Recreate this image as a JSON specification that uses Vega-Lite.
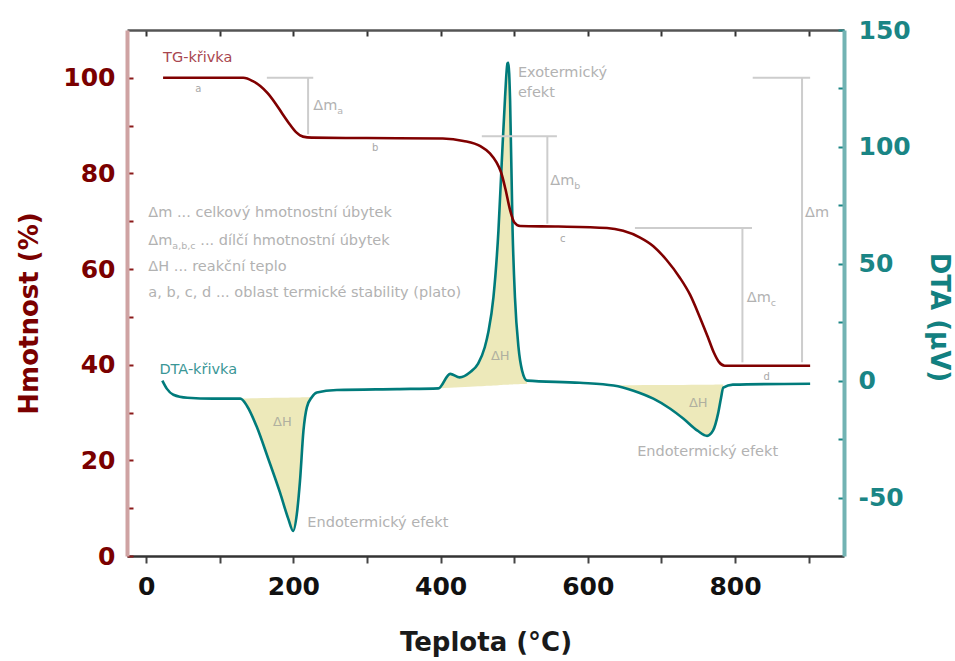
{
  "$schema": "https://vega.github.io/schema/vega-lite/v6.json",
  "width": 717,
  "height": 526,
  "autosize": {"type": "none"},
  "padding": {"left": 127, "top": 30, "right": 111, "bottom": 105},
  "background": "white",
  "config": {"view": {"stroke": null}, "font": "DejaVu Sans"},
  "datasets": {
    "tg": [
      {"t": 23, "m": 100}, {"t": 132, "m": 100}, {"t": 145, "m": 99.3}, {"t": 155, "m": 98.3},
      {"t": 165, "m": 96.8}, {"t": 175, "m": 94.8}, {"t": 185, "m": 92.5}, {"t": 195, "m": 90.3},
      {"t": 204, "m": 88.6}, {"t": 213, "m": 87.7}, {"t": 225, "m": 87.5}, {"t": 300, "m": 87.4},
      {"t": 403, "m": 87.3}, {"t": 431, "m": 86.8}, {"t": 454, "m": 85.7}, {"t": 467, "m": 84.2},
      {"t": 476, "m": 82.3}, {"t": 482, "m": 80.3}, {"t": 488, "m": 76.8}, {"t": 494, "m": 72.6},
      {"t": 500, "m": 69.8}, {"t": 508, "m": 69}, {"t": 560, "m": 68.9}, {"t": 626, "m": 68.6},
      {"t": 648, "m": 68}, {"t": 671, "m": 66.6}, {"t": 689, "m": 64.8}, {"t": 707, "m": 61.9},
      {"t": 725, "m": 58.2}, {"t": 739, "m": 54.6}, {"t": 752, "m": 50}, {"t": 763, "m": 45.8},
      {"t": 771, "m": 42.6}, {"t": 778, "m": 40.6}, {"t": 786, "m": 39.8}, {"t": 902, "m": 39.8}
    ],
    "dta": [
      {"t": 22, "v": 0}, {"t": 28, "v": -3.4}, {"t": 37, "v": -6}, {"t": 56, "v": -7.3}, {"t": 91, "v": -7.7},
      {"t": 128, "v": -7.7, "region": "r1", "base": -7.7},
      {"t": 137, "v": -10.8, "region": "r1", "base": -7.6},
      {"t": 150, "v": -19.5, "region": "r1", "base": -7.5},
      {"t": 166, "v": -33.5, "region": "r1", "base": -7.4},
      {"t": 182, "v": -48, "region": "r1", "base": -7.3},
      {"t": 193, "v": -59, "region": "r1", "base": -7.3},
      {"t": 199.7, "v": -64.3, "region": "r1", "base": -7.2},
      {"t": 204.7, "v": -57.1, "region": "r1", "base": -7.2},
      {"t": 209, "v": -42.9, "region": "r1", "base": -7.2},
      {"t": 213.7, "v": -21.4, "region": "r1", "base": -7.1},
      {"t": 218.3, "v": -11.4, "region": "r1", "base": -7.1},
      {"t": 225, "v": -7.1, "region": "r1", "base": -7.1},
      {"t": 232, "v": -5.1}, {"t": 259, "v": -4}, {"t": 341, "v": -3.6},
      {"t": 397, "v": -3.3, "region": "r2", "base": -3.3},
      {"t": 413, "v": 2.9, "region": "r2", "base": -3.03},
      {"t": 426, "v": 1.4, "region": "r2", "base": -2.82},
      {"t": 440, "v": 3.6, "region": "r2", "base": -2.58},
      {"t": 451, "v": 7.3, "region": "r2", "base": -2.4},
      {"t": 460, "v": 14.3, "region": "r2", "base": -2.25},
      {"t": 465, "v": 21, "region": "r2", "base": -2.17},
      {"t": 471.8, "v": 35.7, "region": "r2", "base": -2.05},
      {"t": 478.6, "v": 64.3, "region": "r2", "base": -1.94},
      {"t": 483, "v": 92.9, "region": "r2", "base": -1.87},
      {"t": 487.6, "v": 121.4, "region": "r2", "base": -1.79},
      {"t": 490.8, "v": 135.7, "region": "r2", "base": -1.74},
      {"t": 492, "v": 136, "region": "r2", "base": -1.72},
      {"t": 494.4, "v": 120, "region": "r2", "base": -1.68},
      {"t": 497.8, "v": 64, "region": "r2", "base": -1.62},
      {"t": 501, "v": 35.7, "region": "r2", "base": -1.57},
      {"t": 505.8, "v": 14.3, "region": "r2", "base": -1.49},
      {"t": 510.7, "v": 4.3, "region": "r2", "base": -1.41},
      {"t": 517.5, "v": 0, "region": "r2", "base": -1.3},
      {"t": 589, "v": -0.9},
      {"t": 635, "v": -2.1, "region": "r3", "base": -2.1},
      {"t": 662, "v": -4.3, "region": "r3", "base": -2.0},
      {"t": 689, "v": -7.7, "region": "r3", "base": -1.9},
      {"t": 712, "v": -12, "region": "r3", "base": -1.8},
      {"t": 730, "v": -16.3, "region": "r3", "base": -1.8},
      {"t": 749, "v": -21.4, "region": "r3", "base": -1.7},
      {"t": 762, "v": -23.6, "region": "r3", "base": -1.7},
      {"t": 770, "v": -21.4, "region": "r3", "base": -1.7},
      {"t": 777, "v": -14, "region": "r3", "base": -1.6},
      {"t": 781, "v": -7.3, "region": "r3", "base": -1.6},
      {"t": 784, "v": -3, "region": "r3", "base": -1.6},
      {"t": 797, "v": -1.7}, {"t": 902, "v": -1.3}
    ],
    "dims": [
      {"t1": 164, "t2": 227, "m1": 100, "m2": 100},
      {"t1": 220, "t2": 220, "m1": 100, "m2": 88.2},
      {"t1": 456, "t2": 558, "m1": 87.8, "m2": 87.8},
      {"t1": 545, "t2": 545, "m1": 87.8, "m2": 69.5},
      {"t1": 664, "t2": 823, "m1": 68.6, "m2": 68.6},
      {"t1": 810, "t2": 810, "m1": 68.6, "m2": 40.5},
      {"t1": 824, "t2": 902, "m1": 100, "m2": 100},
      {"t1": 891, "t2": 891, "m1": 100, "m2": 40.5}
    ],
    "notes": [
      {"kind": "tg", "t": 23, "m": 104.1, "text": "TG-křivka"},
      {"kind": "dta", "t": 18, "m": 38.8, "text": "DTA-křivka"},
      {"kind": "legend", "t": 3, "m": 71.8, "text": "Δm ... celkový hmotnostní úbytek"},
      {"kind": "legend", "t": 3, "m": 60.5, "text": "ΔH ... reakční teplo"},
      {"kind": "legend", "t": 3, "m": 54.9, "text": "a, b, c, d ... oblast termické stability (plato)"},
      {"kind": "note", "t": 505, "m": 101, "text": "Exotermický"},
      {"kind": "note", "t": 505, "m": 96.8, "text": "efekt"},
      {"kind": "note", "t": 219, "m": 6.9, "text": "Endotermický efekt"},
      {"kind": "note", "t": 667, "m": 21.7, "text": "Endotermický efekt"},
      {"kind": "dh", "t": 185, "m": 28, "text": "ΔH"},
      {"kind": "dh", "t": 481, "m": 41.9, "text": "ΔH"},
      {"kind": "dh", "t": 750, "m": 32.1, "text": "ΔH"},
      {"kind": "plateau", "t": 71, "m": 97.6, "text": "a"},
      {"kind": "plateau", "t": 311, "m": 85.3, "text": "b"},
      {"kind": "plateau", "t": 566, "m": 66.3, "text": "c"},
      {"kind": "plateau", "t": 843, "m": 37.5, "text": "d"}
    ],
    "dm": [
      {"t": 3, "m": 65.9, "text": "Δm", "sub": "a,b,c", "rest": "... dílčí hmotnostní úbytek"},
      {"t": 227, "m": 94.1, "text": "Δm", "sub": "a"},
      {"t": 549, "m": 78.4, "text": "Δm", "sub": "b"},
      {"t": 816, "m": 54, "text": "Δm", "sub": "c"},
      {"t": 895, "m": 71.8, "text": "Δm"}
    ]
  },
  "layer": [
    {
      "data": {"name": "dta"},
      "transform": [{"filter": "datum.region != null"}],
      "mark": {"type": "area", "interpolate": "monotone", "color": "#ece8b6", "opacity": 0.95},
      "encoding": {
        "x": {"field": "t", "type": "quantitative", "scale": {"domain": [-26, 948], "nice": false, "zero": false},
          "axis": {"orient": "top", "values": [0, 100, 200, 300, 400, 500, 600, 700, 800, 900], "labels": false, "title": null,
            "domainColor": "#555555", "domainWidth": 2.5, "tickColor": "#333333", "tickWidth": 2,
            "tickSize": -6, "grid": false}},
        "y": {"field": "v", "type": "quantitative", "scale": {"domain": [-75, 150], "nice": false, "zero": false},
          "axis": {"orient": "right", "values": [-50, -25, 0, 25, 50, 75, 100, 125, 150],
            "labelExpr": "datum.value % 50 === 0 ? '' + datum.value : ''",
            "title": "DTA (μV)", "titleColor": "#128080", "titleFontSize": 26, "titleFontWeight": "bold", "titleFont": "DejaVu Sans",
            "titleAngle": 90, "titleX": 94, "titleY": 287, "titleBaseline": "middle", "titleAlign": "center",
            "domainColor": "#72b3b3", "domainWidth": 4, "tickColor": "#1a8585", "tickWidth": 2,
            "tickSize": -6,
            "labelColor": "#1a8585", "labelFont": "DejaVu Sans", "labelFontWeight": "bold", "labelFontSize": 25, "labelPadding": 20, "grid": false}},
        "y2": {"field": "base"},
        "detail": {"field": "region"}
      }
    },
    {
      "data": {"name": "dta"},
      "mark": {"type": "line", "interpolate": "monotone", "color": "#007b7b", "strokeWidth": 2.6},
      "encoding": {
        "x": {"field": "t", "type": "quantitative", "scale": {"domain": [-26, 948], "nice": false, "zero": false}, "axis": null},
        "y": {"field": "v", "type": "quantitative", "scale": {"domain": [-75, 150], "nice": false, "zero": false}, "axis": null}
      }
    },
    {
      "data": {"name": "dims"},
      "mark": {"type": "rule", "color": "#cdcdcd", "strokeWidth": 2},
      "encoding": {
        "x": {"field": "t1", "type": "quantitative", "scale": {"domain": [-26, 948], "nice": false, "zero": false}, "axis": null},
        "x2": {"field": "t2"},
        "y": {"field": "m1", "type": "quantitative", "scale": {"domain": [0, 110], "nice": false, "zero": false}, "axis": null},
        "y2": {"field": "m2"}
      }
    },
    {
      "data": {"name": "tg"},
      "mark": {"type": "line", "interpolate": "monotone", "color": "#800000", "strokeWidth": 2.6},
      "encoding": {
        "x": {"field": "t", "type": "quantitative", "scale": {"domain": [-26, 948], "nice": false, "zero": false},
          "axis": {"orient": "bottom", "values": [0, 100, 200, 300, 400, 500, 600, 700, 800, 900],
            "labelExpr": "datum.value % 200 === 0 ? datum.label : ''",
            "title": "Teplota (°C)", "titleColor": "#1a1a1a", "titleFontSize": 26, "titleFontWeight": "bold", "titleFont": "DejaVu Sans",
            "titleY": 94, "titleBaseline": "alphabetic",
            "domainColor": "#333333", "domainWidth": 2.5, "tickColor": "#444444", "tickWidth": 2,
            "tickSize": 7,
            "labelColor": "#111111", "labelFont": "DejaVu Sans", "labelFontWeight": "bold", "labelFontSize": 25, "labelPadding": 11, "grid": false}},
        "y": {"field": "m", "type": "quantitative", "scale": {"domain": [0, 110], "nice": false, "zero": false},
          "axis": {"orient": "left", "values": [0, 10, 20, 30, 40, 50, 60, 70, 80, 90, 100],
            "labelExpr": "datum.value % 20 === 0 ? datum.label : ''",
            "title": "Hmotnost (%)", "titleColor": "#7a0000", "titleFontSize": 26, "titleFontWeight": "bold", "titleFont": "DejaVu Sans",
            "titleX": -98, "titleY": 283, "titleBaseline": "middle", "titleAlign": "center",
            "domainColor": "#cfa3a3", "domainWidth": 4, "tickColor": "#8b1a1a", "tickWidth": 2,
            "tickSize": -6,
            "labelColor": "#7a0000", "labelFont": "DejaVu Sans", "labelFontWeight": "bold", "labelFontSize": 25, "labelPadding": 18, "grid": false}}
      }
    },
    {
      "data": {"name": "notes"},
      "transform": [{"filter": "datum.kind === 'tg' || datum.kind === 'dta' || datum.kind === 'legend' || datum.kind === 'note'"}],
      "mark": {"type": "text", "align": "left", "baseline": "middle", "fontSize": 14.5, "font": "DejaVu Sans"},
      "encoding": {
        "x": {"field": "t", "type": "quantitative", "scale": {"domain": [-26, 948], "nice": false, "zero": false}, "axis": null},
        "y": {"field": "m", "type": "quantitative", "scale": {"domain": [0, 110], "nice": false, "zero": false}, "axis": null},
        "text": {"field": "text"},
        "color": {"field": "kind", "type": "nominal", "scale": {"domain": ["tg", "dta", "legend", "note"], "range": ["#a8464f", "#3a9696", "#b2b2b2", "#b2b2b2"]}, "legend": null}
      }
    },
    {
      "data": {"name": "notes"},
      "transform": [{"filter": "datum.kind === 'dh'"}],
      "mark": {"type": "text", "align": "center", "baseline": "middle", "fontSize": 13, "font": "DejaVu Sans", "color": "#b0b0a0"},
      "encoding": {
        "x": {"field": "t", "type": "quantitative", "scale": {"domain": [-26, 948], "nice": false, "zero": false}, "axis": null},
        "y": {"field": "m", "type": "quantitative", "scale": {"domain": [0, 110], "nice": false, "zero": false}, "axis": null},
        "text": {"field": "text"}
      }
    },
    {
      "data": {"name": "notes"},
      "transform": [{"filter": "datum.kind === 'plateau'"}],
      "mark": {"type": "text", "align": "center", "baseline": "middle", "fontSize": 10, "font": "DejaVu Sans", "color": "#a8a8a8"},
      "encoding": {
        "x": {"field": "t", "type": "quantitative", "scale": {"domain": [-26, 948], "nice": false, "zero": false}, "axis": null},
        "y": {"field": "m", "type": "quantitative", "scale": {"domain": [0, 110], "nice": false, "zero": false}, "axis": null},
        "text": {"field": "text"}
      }
    },
    {
      "data": {"name": "dm"},
      "mark": {"type": "text", "align": "left", "baseline": "middle", "fontSize": 14.5, "font": "DejaVu Sans", "color": "#b2b2b2"},
      "encoding": {
        "x": {"field": "t", "type": "quantitative", "scale": {"domain": [-26, 948], "nice": false, "zero": false}, "axis": null},
        "y": {"field": "m", "type": "quantitative", "scale": {"domain": [0, 110], "nice": false, "zero": false}, "axis": null},
        "text": {"field": "text"}
      }
    },
    {
      "data": {"name": "dm"},
      "transform": [{"filter": "datum.sub != null"}],
      "mark": {"type": "text", "align": "left", "baseline": "middle", "fontSize": 9.5, "font": "DejaVu Sans", "color": "#b2b2b2", "dx": 24, "dy": 5},
      "encoding": {
        "x": {"field": "t", "type": "quantitative", "scale": {"domain": [-26, 948], "nice": false, "zero": false}, "axis": null},
        "y": {"field": "m", "type": "quantitative", "scale": {"domain": [0, 110], "nice": false, "zero": false}, "axis": null},
        "text": {"field": "sub"}
      }
    },
    {
      "data": {"name": "dm"},
      "transform": [{"filter": "datum.rest != null"}],
      "mark": {"type": "text", "align": "left", "baseline": "middle", "fontSize": 14.5, "font": "DejaVu Sans", "color": "#b2b2b2", "dx": 52},
      "encoding": {
        "x": {"field": "t", "type": "quantitative", "scale": {"domain": [-26, 948], "nice": false, "zero": false}, "axis": null},
        "y": {"field": "m", "type": "quantitative", "scale": {"domain": [0, 110], "nice": false, "zero": false}, "axis": null},
        "text": {"field": "rest"}
      }
    }
  ],
  "resolve": {"scale": {"y": "independent"}, "axis": {"x": "independent"}}
}
